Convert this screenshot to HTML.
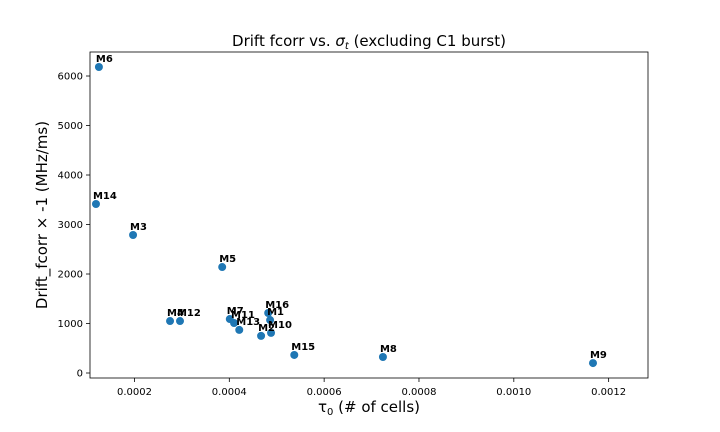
<!DOCTYPE html>
<html><head><meta charset="utf-8"><style>
html,body{margin:0;padding:0;background:#fff;}
svg{display:block;font-family:"DejaVu Sans","Liberation Sans",sans-serif;}
</style></head><body>
<svg id="chart" width="720" height="432" viewBox="0 0 720 432">
<rect x="0" y="0" width="720" height="432" fill="#fff"/>
<g id="plot"></g>
</svg>
<script>
const labels = ["M6","M14","M3","M5","M4","M12","M7","M11","M13","M2","M16","M1","M10","M15","M8","M9"];
const tau = [0.000125,0.0001188,0.000197,0.000385,0.000275,0.000296,0.000401,0.00041,0.000421,0.000467,0.000482,0.000486,0.000488,0.000537,0.000724,0.001167];
const drift = [6182,3414,2788,2141,1050,1050,1090,1010,870,750,1212,1070,810,364,323,200];
const xTicks = [0.0002,0.0004,0.0006,0.0008,0.0010,0.0012];
const xTickLabels = ["0.0002","0.0004","0.0006","0.0008","0.0010","0.0012"];
const yTicks = [0,1000,2000,3000,4000,5000,6000];

const L=90,R=648,T=52,B=378;
const xMin=0.0001062,xMax=0.001283,yMin=-101,yMax=6485;
function xs(v){return L+(v-xMin)/(xMax-xMin)*(R-L);}
function ys(v){return B-(v-yMin)/(yMax-yMin)*(B-T);}
const NS="http://www.w3.org/2000/svg";
const g=document.getElementById('plot');
function mk(tag,attrs,text){const e=document.createElementNS(NS,tag);for(const k in attrs)e.setAttribute(k,attrs[k]);if(text!==undefined)e.textContent=text;g.appendChild(e);return e;}

xTicks.forEach((t,i)=>{
  const x=xs(t);
  const tk=mk('line',{x1:x,x2:x,y1:B,y2:B+4,stroke:'#000','stroke-width':0.8});
  
  
  const lb=mk('text',{x:x,y:B+17,'font-size':10,'text-anchor':'middle',fill:'#000'},xTickLabels[i]);
  
  
});
yTicks.forEach(t=>{
  const y=ys(t);
  const tk=mk('line',{x1:L-4,x2:L,y1:y,y2:y,stroke:'#000','stroke-width':0.8});
  
  
  const lb=mk('text',{x:L-7,y:y+3.5,'font-size':10,'text-anchor':'end',fill:'#000'},String(t));
  
  
});

tau.forEach((v,i)=>{
  const cx=xs(v),cy=ys(drift[i]);
  const c=mk('circle',{cx:cx,cy:cy,r:4,fill:'#1f77b4'});
  
  
});
tau.forEach((v,i)=>{
  const cx=xs(v),cy=ys(drift[i]);
  const t=mk('text',{x:cx-3,y:cy-5,'font-size':10,'font-weight':'bold',fill:'#000'},labels[i]);
  
  
});

const frame=mk('rect',{x:L,y:T,width:R-L,height:B-T,fill:'none',stroke:'#000','stroke-width':0.8});



const title=mk('text',{x:369,y:46,'font-size':15,'text-anchor':'middle',fill:'#000'});
title.innerHTML='Drift fcorr vs. <tspan font-style="italic">σ</tspan><tspan font-style="italic" font-size="10" dy="3">t</tspan><tspan dy="-3"> (excluding C1 burst)</tspan>';



const xt=mk('text',{x:369,y:412,'font-size':15,'text-anchor':'middle',fill:'#000'});
xt.innerHTML='τ<tspan font-size="10" dy="3">0</tspan><tspan dy="-3"> (# of cells)</tspan>';



const yt=mk('text',{x:0,y:0,'font-size':15,'text-anchor':'middle',fill:'#000',transform:'translate(47,215) rotate(-90)'},'Drift_fcorr × -1 (MHz/ms)');


</script>
</body></html>
